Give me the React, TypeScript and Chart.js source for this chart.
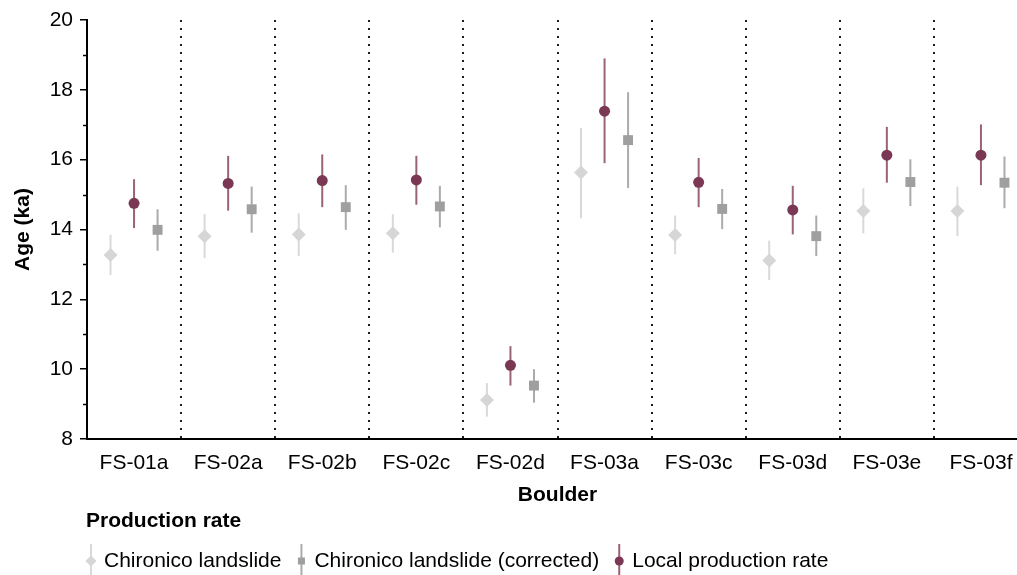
import React, { useEffect, useRef } from 'react';
import { Chart, registerables } from 'chart.js';

Chart.register(...registerables);

const FONT = '"Liberation Sans", Arial, Helvetica, sans-serif';
const FS = 21;

const categories = ['FS-01a', 'FS-02a', 'FS-02b', 'FS-02c', 'FS-02d', 'FS-03a', 'FS-03c', 'FS-03d', 'FS-03e', 'FS-03f'];

const chironico = [13.27, 13.81, 13.86, 13.89, 9.12, 15.63, 13.84, 13.11, 14.53, 14.53];
const chironicoLow = [12.7, 13.18, 13.24, 13.34, 8.64, 14.32, 13.29, 12.55, 13.89, 13.81];
const chironicoHigh = [13.85, 14.44, 14.46, 14.44, 9.6, 16.91, 14.4, 13.68, 15.18, 15.23];

const corrected = [13.99, 14.58, 14.64, 14.66, 9.53, 16.56, 14.59, 13.81, 15.36, 15.34];
const correctedLow = [13.39, 13.91, 13.99, 14.06, 9.04, 15.19, 14.01, 13.24, 14.67, 14.61];
const correctedHigh = [14.58, 15.23, 15.27, 15.25, 10.0, 17.93, 15.16, 14.4, 16.01, 16.09];

const local = [14.75, 15.32, 15.4, 15.42, 10.11, 17.39, 15.35, 14.56, 16.13, 16.13];
const localLow = [14.04, 14.54, 14.64, 14.71, 9.53, 15.9, 14.64, 13.86, 15.34, 15.27];
const localHigh = [15.44, 16.11, 16.15, 16.11, 10.66, 18.9, 16.05, 15.25, 16.94, 17.01];

const yTicks = [8, 10, 12, 14, 16, 18, 20];
const yMinorTicks = [9, 11, 13, 15, 17, 19];

const legendTitle = 'Production rate';
const xTitle = 'Boulder';
const yTitle = 'Age (ka)';

type Series = {
  label: string;
  values: number[];
  lows: number[];
  highs: number[];
  offset: number;
  style: string;
  radius: number;
  color: string;
  barColor: string;
  legendOrder: number;
};

const series: Series[] = [
  { label: 'Chironico landslide', values: chironico, lows: chironicoLow, highs: chironicoHigh, offset: -0.25, style: 'rectRot', radius: 7, color: '#d6d6d6', barColor: '#d9d9d9', legendOrder: 0 },
  { label: 'Local production rate', values: local, lows: localLow, highs: localHigh, offset: 0, style: 'circle', radius: 5.5, color: '#7a3854', barColor: '#9a6277', legendOrder: 2 },
  { label: 'Chironico landslide (corrected)', values: corrected, lows: correctedLow, highs: correctedHigh, offset: 0.25, style: 'rect', radius: 7, color: '#9f9f9f', barColor: '#ababab', legendOrder: 1 },
];

function drawMarker(ctx: CanvasRenderingContext2D, style: string, x: number, y: number, size: number, color: string) {
  ctx.fillStyle = color;
  ctx.beginPath();
  if (style === 'circle') {
    ctx.arc(x, y, size, 0, Math.PI * 2);
  } else if (style === 'rect') {
    ctx.rect(x - size, y - size, size * 2, size * 2);
  } else {
    ctx.moveTo(x, y - size);
    ctx.lineTo(x + size, y);
    ctx.lineTo(x, y + size);
    ctx.lineTo(x - size, y);
    ctx.closePath();
  }
  ctx.fill();
}

const decorPlugin = {
  id: 'decor',
  beforeDatasetsDraw(chart: any) {
    const { ctx, chartArea, scales } = chart;
    const xs = scales.x;
    const ys = scales.y;
    ctx.save();
    ctx.strokeStyle = '#1a1a1a';
    ctx.lineWidth = 2;
    ctx.setLineDash([2, 6]);
    for (let i = 0; i < categories.length - 1; i++) {
      const px = Math.round(xs.getPixelForValue(i + 0.5));
      ctx.beginPath();
      ctx.moveTo(px, chartArea.top);
      ctx.lineTo(px, chartArea.bottom);
      ctx.stroke();
    }
    ctx.setLineDash([]);
    chart.data.datasets.forEach((ds: any) => {
      ctx.strokeStyle = ds.barColor;
      ctx.lineWidth = 2;
      ds.lows.forEach((lo: number, i: number) => {
        const px = xs.getPixelForValue(i + ds.offset);
        ctx.beginPath();
        ctx.moveTo(px, ys.getPixelForValue(lo));
        ctx.lineTo(px, ys.getPixelForValue(ds.highs[i]));
        ctx.stroke();
      });
    });
    ctx.strokeStyle = '#000';
    ctx.lineWidth = 1.5;
    yMinorTicks.forEach((v) => {
      const py = Math.round(ys.getPixelForValue(v)) + 0.5;
      ctx.beginPath();
      ctx.moveTo(chartArea.left - 4, py);
      ctx.lineTo(chartArea.left, py);
      ctx.stroke();
    });
    ctx.restore();
  },
  afterDraw(chart: any) {
    const { ctx, chartArea } = chart;
    ctx.save();
    ctx.fillStyle = '#000';
    ctx.font = `bold ${FS}px ${FONT}`;
    ctx.textBaseline = 'middle';
    ctx.textAlign = 'center';
    ctx.fillText(xTitle, (chartArea.left + chartArea.right) / 2, 495);
    ctx.save();
    ctx.translate(23, (chartArea.top + chartArea.bottom) / 2);
    ctx.rotate(-Math.PI / 2);
    ctx.fillText(yTitle, 0, 0);
    ctx.restore();
    ctx.textAlign = 'left';
    ctx.font = `bold ${FS}px ${FONT}`;
    ctx.fillText(legendTitle, 86, 521);
    ctx.font = `${FS}px ${FONT}`;
    let x = 91;
    const cy = 561;
    const ordered = [...series].sort((a, b) => a.legendOrder - b.legendOrder);
    ordered.forEach((s) => {
      ctx.strokeStyle = s.barColor;
      ctx.lineWidth = 2;
      ctx.beginPath();
      ctx.moveTo(x, cy - 17);
      ctx.lineTo(x, cy + 17);
      ctx.stroke();
      const sz = s.style === 'circle' ? 4.5 : s.style === 'rect' ? 3.5 : 5.5;
      drawMarker(ctx, s.style, x, cy, sz, s.color);
      ctx.fillStyle = '#000';
      const tx = x + 13;
      ctx.fillText(s.label, tx, cy);
      x = tx + ctx.measureText(s.label).width + 20;
    });
    ctx.restore();
  },
};

export default function App() {
  const ref = useRef<HTMLCanvasElement>(null);
  useEffect(() => {
    const canvas = ref.current;
    if (!canvas) return;
    const chart = new Chart(canvas, {
      type: 'scatter',
      data: {
        datasets: series.map((s) => ({
          label: s.label,
          data: s.values.map((v, i) => ({ x: i + s.offset, y: v })),
          pointStyle: s.style,
          pointRadius: s.radius,
          pointHoverRadius: s.radius,
          pointBackgroundColor: s.color,
          pointBorderColor: s.color,
          pointBorderWidth: 0,
          showLine: false,
          lows: s.lows,
          highs: s.highs,
          offset: s.offset,
          barColor: s.barColor,
        })) as any,
      },
      options: {
        responsive: false,
        animation: false,
        devicePixelRatio: 1,
        events: [],
        font: { family: FONT },
        layout: { padding: { top: 20, right: 12, left: 0, bottom: 0 } },
        plugins: {
          legend: { display: false },
          tooltip: { enabled: false },
        },
        scales: {
          x: {
            type: 'linear',
            min: -0.5,
            max: categories.length - 0.5,
            afterFit: (scale: any) => { scale.height = 136; },
            afterBuildTicks: (scale: any) => { scale.ticks = categories.map((_, i) => ({ value: i })); },
            ticks: {
              callback: (v: any) => categories[Math.round(Number(v))] ?? '',
              font: { family: FONT, size: FS },
              color: '#000',
              padding: 12,
              maxRotation: 0,
              autoSkip: false,
            },
            grid: { display: false, drawTicks: false },
            border: { display: true, color: '#000', width: 2 },
          },
          y: {
            type: 'linear',
            min: 8,
            max: 20,
            afterFit: (scale: any) => { scale.width = 87; },
            afterBuildTicks: (scale: any) => { scale.ticks = yTicks.map((v) => ({ value: v })); },
            ticks: {
              font: { family: FONT, size: FS },
              color: '#000',
              padding: 7,
            },
            grid: { drawOnChartArea: false, drawTicks: true, tickLength: 7, color: '#000', lineWidth: 1.5 },
            border: { display: true, color: '#000', width: 2 },
          },
        },
      } as any,
      plugins: [decorPlugin],
    });
    return () => chart.destroy();
  }, []);
  return (
    <div style={{ position: 'fixed', left: 0, top: 0, width: 1017, height: 575, overflow: 'hidden', background: '#fff' }}>
      <canvas ref={ref} width={1040} height={575} style={{ display: 'block', width: 1040, height: 575 }} />
    </div>
  );
}
